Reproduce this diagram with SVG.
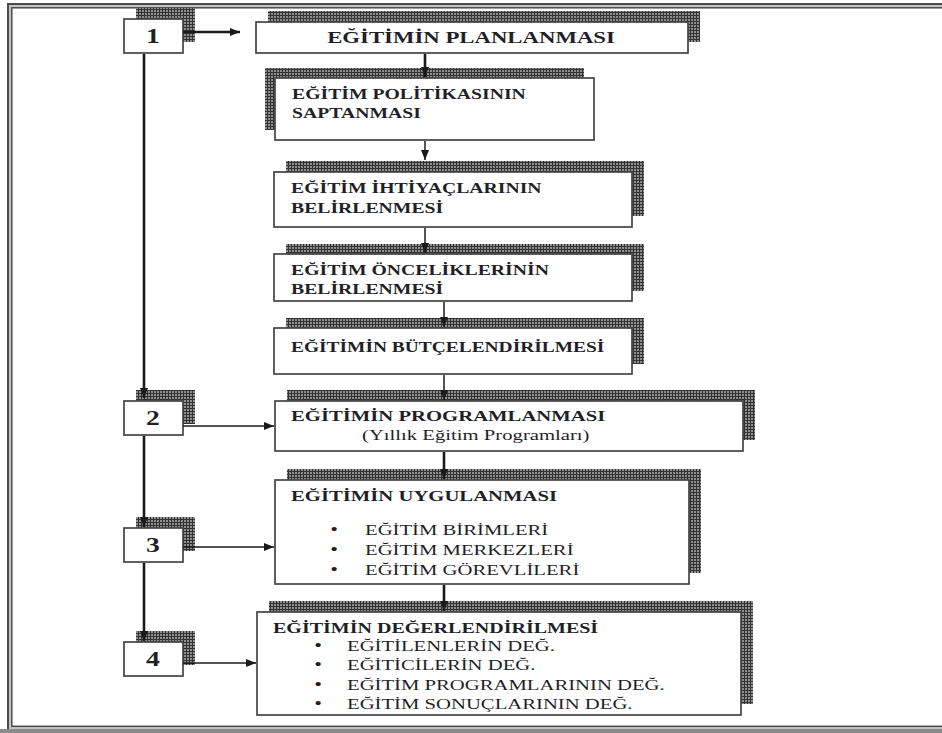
<svg xmlns="http://www.w3.org/2000/svg" width="942" height="733" viewBox="0 0 942 733">
<style>
.sh{fill:url(#grid)}
.bx{fill:#fff;stroke:#444;stroke-width:1.7}
.t{font-family:"Liberation Serif","Times New Roman",serif;fill:#1f1f2a}
.b{font-weight:bold}
.ln{stroke:#1a1a1a;fill:none}
.thk{stroke-width:2.6}
.thn{stroke-width:1.5}
</style>
<defs>
<pattern id="grid" width="3" height="3" patternUnits="userSpaceOnUse">
<rect width="3" height="3" fill="#8e8e8e"/>
<path d="M0,0.5H3M0.5,0V3" stroke="#333" stroke-width="1"/>
</pattern>
<marker id="ah" viewBox="0 0 10 8" refX="10" refY="4" markerWidth="10" markerHeight="8" orient="auto" markerUnits="userSpaceOnUse">
<path d="M0,0L10,4L0,8z" fill="#1a1a1a"/>
</marker>
</defs>
<rect width="942" height="733" fill="#fff"/>
<g id="frame">
<rect x="8" y="4" width="1000" height="726" fill="none" stroke="#4a4a4a" stroke-width="2"/>
<rect x="10" y="6" width="1000" height="722" fill="none" stroke="#b0b0b0" stroke-width="1.5"/>
<rect x="11.8" y="7.8" width="1000" height="718.5" fill="none" stroke="#4a4a4a" stroke-width="1.5"/>
<rect x="0" y="729" width="942" height="4" fill="#8a8a8a"/>
</g>
<g id="n1">
<rect class="sh" x="136" y="8" width="59" height="34"/>
<rect class="bx" x="124" y="19" width="59" height="34"/>
<text class="t b" font-size="20" text-anchor="middle" transform="translate(153,43) scale(1.38,1)">1</text>
</g>
<g id="plan">
<rect class="sh" x="268" y="11" width="432" height="31"/>
<rect class="bx" x="256" y="22" width="432" height="31"/>
<text class="t b" font-size="16.5" text-anchor="middle" transform="translate(471,43) scale(1.38,1)">EĞİTİMİN PLANLANMASI</text>
</g>
<g id="politika">
<rect class="sh" x="265" y="68" width="319" height="62"/>
<rect class="bx" x="275" y="78" width="319" height="62"/>
<text class="t b" font-size="14.5" transform="translate(292,99) scale(1.36,1)">EĞİTİM POLİTİKASININ</text>
<text class="t b" font-size="14.5" transform="translate(292,118) scale(1.36,1)">SAPTANMASI</text>
</g>
<g id="ihtiyac">
<rect class="sh" x="286" y="161" width="358" height="55"/>
<rect class="bx" x="274" y="172" width="358" height="55"/>
<text class="t b" font-size="14.5" transform="translate(291,193) scale(1.36,1)">EĞİTİM İHTİYAÇLARININ</text>
<text class="t b" font-size="14.5" transform="translate(291,213) scale(1.36,1)">BELİRLENMESİ</text>
</g>
<g id="oncelik">
<rect class="sh" x="286" y="244" width="358" height="47"/>
<rect class="bx" x="274" y="254" width="358" height="47"/>
<text class="t b" font-size="14.5" transform="translate(291,275) scale(1.36,1)">EĞİTİM ÖNCELİKLERİNİN</text>
<text class="t b" font-size="14.5" transform="translate(291,294) scale(1.36,1)">BELİRLENMESİ</text>
</g>
<g id="butce">
<rect class="sh" x="286" y="318" width="358" height="46"/>
<rect class="bx" x="274" y="328" width="358" height="46"/>
<text class="t b" font-size="14.5" transform="translate(291,352) scale(1.34,1)">EĞİTİMİN BÜTÇELENDİRİLMESİ</text>
</g>
<g id="n2">
<rect class="sh" x="136" y="390" width="59" height="34"/>
<rect class="bx" x="124" y="401" width="59" height="34"/>
<text class="t b" font-size="20" text-anchor="middle" transform="translate(153,425) scale(1.38,1)">2</text>
</g>
<g id="prog">
<rect class="sh" x="287" y="390" width="468" height="50"/>
<rect class="bx" x="275" y="401" width="468" height="50"/>
<text class="t b" font-size="15" transform="translate(291,421) scale(1.38,1)">EĞİTİMİN PROGRAMLANMASI</text>
<text class="t" font-size="15" transform="translate(362,440) scale(1.38,1)">(Yıllık Eğitim Programları)</text>
</g>
<g id="n3">
<rect class="sh" x="136" y="517" width="59" height="34"/>
<rect class="bx" x="124" y="528" width="59" height="34"/>
<text class="t b" font-size="20" text-anchor="middle" transform="translate(153,552) scale(1.38,1)">3</text>
</g>
<g id="uyg">
<rect class="sh" x="287" y="469" width="414" height="104"/>
<rect class="bx" x="275" y="480" width="414" height="104"/>
<text class="t b" font-size="15" transform="translate(291,501) scale(1.38,1)">EĞİTİMİN UYGULANMASI</text>
<text class="t" font-size="16" text-anchor="middle" transform="translate(334,535) scale(1.38,1)">•</text>
<text class="t" font-size="15" transform="translate(365,535) scale(1.38,1)">EĞİTİM BİRİMLERİ</text>
<text class="t" font-size="16" text-anchor="middle" transform="translate(334,555) scale(1.38,1)">•</text>
<text class="t" font-size="15" transform="translate(365,555) scale(1.38,1)">EĞİTİM MERKEZLERİ</text>
<text class="t" font-size="16" text-anchor="middle" transform="translate(334,575) scale(1.38,1)">•</text>
<text class="t" font-size="15" transform="translate(365,575) scale(1.38,1)">EĞİTİM GÖREVLİLERİ</text>
</g>
<g id="n4">
<rect class="sh" x="136" y="631" width="59" height="34"/>
<rect class="bx" x="124" y="642" width="59" height="34"/>
<text class="t b" font-size="20" text-anchor="middle" transform="translate(153,666) scale(1.38,1)">4</text>
</g>
<g id="deg">
<rect class="sh" x="269" y="601" width="484" height="103"/>
<rect class="bx" x="257" y="612" width="484" height="103"/>
<text class="t b" font-size="14.5" transform="translate(273,633) scale(1.38,1)">EĞİTİMİN DEĞERLENDİRİLMESİ</text>
<text class="t" font-size="16" text-anchor="middle" transform="translate(318,651) scale(1.38,1)">•</text>
<text class="t" font-size="15" transform="translate(347,651) scale(1.38,1)">EĞİTİLENLERİN DEĞ.</text>
<text class="t" font-size="16" text-anchor="middle" transform="translate(318,670) scale(1.38,1)">•</text>
<text class="t" font-size="15" transform="translate(347,670) scale(1.38,1)">EĞİTİCİLERİN DEĞ.</text>
<text class="t" font-size="16" text-anchor="middle" transform="translate(318,690) scale(1.38,1)">•</text>
<text class="t" font-size="15" transform="translate(347,690) scale(1.38,1)">EĞİTİM PROGRAMLARININ DEĞ.</text>
<text class="t" font-size="16" text-anchor="middle" transform="translate(318,709) scale(1.38,1)">•</text>
<text class="t" font-size="15" transform="translate(347,709) scale(1.38,1)">EĞİTİM SONUÇLARININ DEĞ.</text>
</g>
<g id="connectors">
<line class="ln thk" x1="144" y1="54" x2="144" y2="398" marker-end="url(#ah)"/>
<line class="ln thk" x1="144" y1="436" x2="144" y2="527" marker-end="url(#ah)"/>
<line class="ln thk" x1="144" y1="563" x2="144" y2="641" marker-end="url(#ah)"/>
<line class="ln thk" x1="183" y1="32" x2="240" y2="32" marker-end="url(#ah)"/>
<line class="ln thn" x1="183" y1="426" x2="274" y2="426" marker-end="url(#ah)"/>
<line class="ln thn" x1="183" y1="547" x2="274" y2="547" marker-end="url(#ah)"/>
<line class="ln thn" x1="183" y1="663" x2="256" y2="663" marker-end="url(#ah)"/>
<line class="ln thk" x1="425" y1="54" x2="425" y2="77" marker-end="url(#ah)"/>
<line class="ln thn" x1="425" y1="141" x2="425" y2="160" marker-end="url(#ah)"/>
<line class="ln thn" x1="425" y1="228" x2="425" y2="253" marker-end="url(#ah)"/>
<line class="ln thn" x1="444" y1="302" x2="444" y2="327" marker-end="url(#ah)"/>
<line class="ln thn" x1="444" y1="375" x2="444" y2="400" marker-end="url(#ah)"/>
<line class="ln thk" x1="444" y1="452" x2="444" y2="479" marker-end="url(#ah)"/>
<line class="ln thk" x1="444" y1="585" x2="444" y2="611" marker-end="url(#ah)"/>
</g>
</svg>
